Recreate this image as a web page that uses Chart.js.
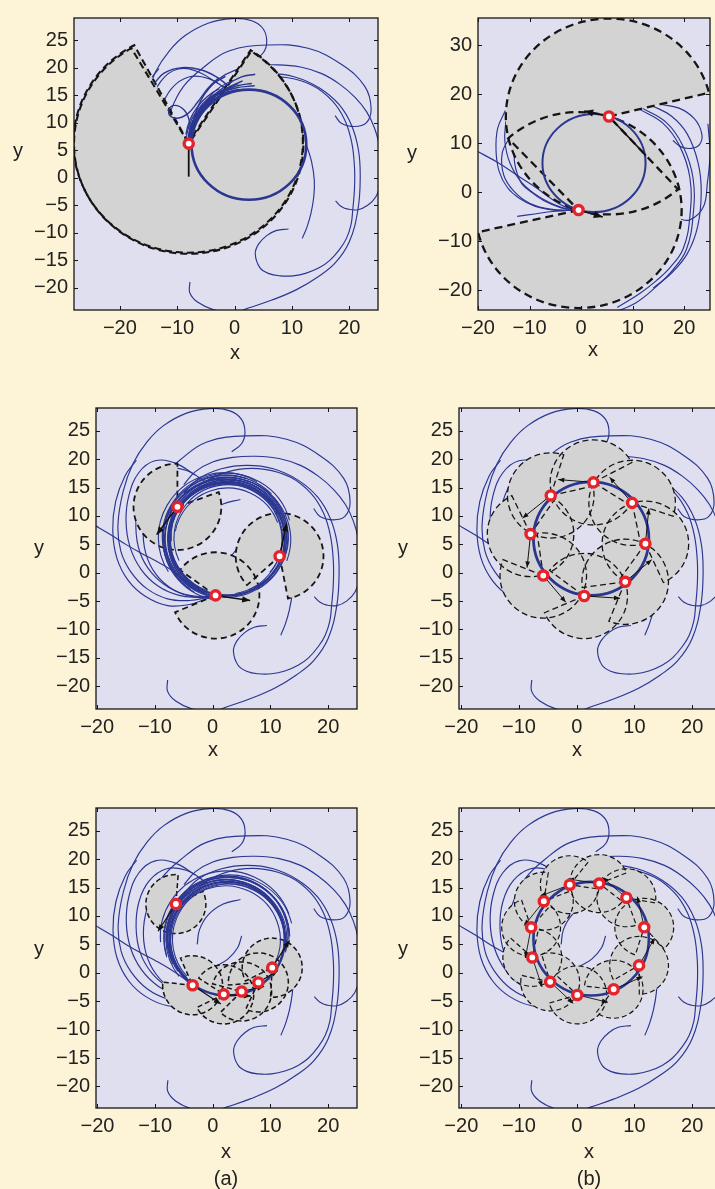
<!DOCTYPE html>
<html>
<head>
<meta charset="utf-8">
<script src="https://cdn.jsdelivr.net/npm/chart.js@4.4.1/dist/chart.umd.min.js"></script>
<style>
  html, body { margin: 0; padding: 0; }
  body { width: 715px; height: 1189px; overflow: hidden; position: relative; background: #fdf3d7;
         font-family: "Liberation Sans", Arial, Helvetica, sans-serif; }
  canvas { position: absolute; }
  .lbl { position: absolute; font-size: 20px; color: #222; transform: translate(-50%, -50%); line-height: 1; }
</style>
</head>
<body>
<script>
// ---- ticks ----
const xTicks = [-20, -10, 0, 10, 20];
const yTicks = [-20, -15, -10, -5, 0, 5, 10, 15, 20, 25];
const yTicksTall = [-20, -10, 0, 10, 20, 30];

// limit cycle: centre x, centre y, radius
const limitCycle = [2.5, 6, 10];

// ---- trajectories shared by most panels ----
const hookCurve = [[3.3,21.3],[5.0,22.7],[5.6,24.7],[5.0,27.0],[3.0,28.5],[-0.5,28.9],[-4.5,28.1],[-8.5,25.9],[-11.4,23.0],[-13.8,19.2],[-15.5,14.3],[-16.4,8.4],[-15.9,3.8],[-14.2,0.2],[-11.4,-2.8],[-7.8,-4.6],[-4,-4.9],[-0.5,-4.3]];
const leftLine = [[-21,8.7],[-17.5,6.6],[-14.9,4.9],[-12.3,3.4],[-9.7,2],[-7.5,0.7],[-5.3,-0.8],[-3.3,-2.4],[-1,-3.8]];
const leftArc = [[-3,17.2],[-6.5,19.3],[-10,19.7],[-12.8,17.6],[-14.5,13.6],[-15,9],[-14.3,4.5],[-12.4,0.6],[-9.4,-2.4],[-5.8,-4],[-2,-4.4]];
const leftArc2 = [[-1,15.8],[-4.5,18],[-8,18.3],[-11,16.2],[-12.8,12.5],[-13.3,8],[-12.6,3.6],[-10.6,0],[-7.6,-2.6],[-4,-4],[-0.5,-4.2]];
const leftArc3 = [[-13.2,19.8],[-15.2,17],[-16.8,12.5],[-17.3,7.5],[-16.6,2.6],[-14.6,-1.4],[-11.6,-4.2],[-7.8,-5.8],[-4,-5.6],[-0.8,-4.5]];
const topArc = [[17.5,11.3],[18.6,9.9],[20.9,9.3],[22.9,9.9],[23.8,12.5],[22.7,16.6],[18.6,20.6],[12.8,23.5],[5.9,24.1],[-1,23],[-5.7,19.8],[-8.9,16.6],[-11,12.5],[-12,8],[-11.6,3.5],[-9.8,-0.3],[-6.8,-3],[-3.2,-4.3],[-0.5,-4.2]];
const bottomArc = [[-7.8,-18.9],[-7.8,-20.9],[-6.4,-22.6],[-3.5,-24],[0,-24.4],[2.5,-23.6],[6.5,-22.2],[10.8,-20.3],[14.5,-18],[17.5,-15.5],[20,-11.6],[21.5,-5.8],[21.9,0],[21.6,5],[20.4,9.5],[18.2,13.3],[14.8,16.3],[10.5,18.3],[6,18.9],[1.5,18.3],[-2.5,16.5],[-5,14]];
const curlArc = [[9.4,-9.3],[7.2,-9.6],[5.6,-10.5],[4.2,-12],[3.6,-13.8],[4.4,-16.3],[6,-17.4],[7.9,-17.8],[10.2,-17.8],[12.5,-17.3],[14.8,-16.3],[16.6,-15],[18.3,-13],[19.5,-11],[20.3,-8.5],[20.6,-5.8],[20.9,-2],[20.9,2],[20.4,6.5],[19.2,10.5],[17,14],[13.5,16.8],[9,18.2],[4.5,18.2],[0.5,17],[-2.5,15.2]];
const outerArc = [[17.6,-4.2],[18.6,-5.2],[19.8,-5.7],[21.5,-5.8],[23.2,-5],[24.6,-3.5],[25.4,-1],[25.6,2],[25.3,5.5],[24.4,9],[23,12],[21,14.6],[18.3,17],[15.2,18.9],[11.5,20.1],[7.5,20.5],[3.5,20.3],[0,19.5],[-3,17.8],[-5,15.5]];
const shortArc = [[11.8,-11],[12.6,-9],[13.3,-6.5],[13.8,-3.5],[13.9,-0.5],[13.4,3],[12.5,6]];
const innerA = [[-2.7,5.0],[-2.3,7.6],[-0.8,10.2],[1.8,12.1],[4.8,12.9]];
const innerB = [[0.3,1.0],[2.6,2.4],[4.3,4.4],[5.0,6.5]];
const sharedPaths = [hookCurve, leftLine, leftArc, leftArc2, leftArc3, topArc, bottomArc, curlArc, outerArc, shortArc, innerA, innerB];

// ---- panel 1: one agent, wide sensing sector ----
const p1Agents = [[-8, 6.2]];
const p1Sectors = [[-8, 6.2, 20, 120, 417], [-8.1, 6.4, 20, 118, 417]];
const p1Arrows = [[-8, 6.2, -8, 0.2, 0]];
const p1Bundle = [
  [[-8,6.3],[-7.6,9.2],[-6,12.3],[-3.3,14.9],[0.2,16.3],[3.5,16.7]],
  [[-8,6.3],[-7.3,9.5],[-5.6,12.6],[-2.9,15.2],[0.5,16.7],[3,17.1]],
  [[-8,6.3],[-7.1,9.8],[-5.2,13],[-2.4,15.6],[0.6,17.1]],
  [[-8,6.3],[-6.8,10.1],[-4.7,13.4],[-1.8,16],[1.4,17.6]],
  [[-8,6.3],[-6.6,10.6],[-4.4,14],[-1.6,16.7],[1.2,18.3],[3.6,18.8]],
  [[-8,6.3],[-7.2,10.3],[-6,13.8],[-4,16.8],[-1.6,18.4]],
  [[-8,6.3],[-7.8,9.8],[-8.8,12.3],[-10.8,13.1],[-11.5,11.7],[-10.3,10.8],[-8.2,11.6],[-6.4,13.8],[-4.6,16.3],[-2.8,18.1]],
  [[-14.2,16.9],[-12.3,19],[-9.2,20],[-5.9,19.6],[-3.3,18.4],[-1.2,16.8]]
];
const p1Arcs = [
  [2.5,6.0,10.3,110,180], [2.5,6.2,10.6,106,178], [2.4,6.0,10.9,114,176], [2.6,6.3,11.2,118,172],
  [2.5,6.1,10.1,100,180], [2.4,6.3,10.45,104,179], [2.6,6.1,10.75,112,177]
];

// ---- panel 2: two agents ----
const p2Agents = [[5.4, 15.5], [-0.5, -3.6]];
const p2Sectors = [[5.4, 15.5, 20, 14, 312], [-0.5, -3.6, 20, 193, 493]];
const p2Arrows = [[5.4, 15.5, 0.6, 16.6, 1], [-0.5, -3.6, 4.2, -5, 1], [5.4, 15.5, 12.6, 7.5, 0]];
const p2Left = [
  [[-20.5,8.6],[-16,6],[-12,3.2],[-8.5,0.8],[-5.5,-1.5],[-3,-3],[-0.8,-3.6]],
  [[-14.7,16.7],[-16.2,13],[-16.5,8.5],[-15.9,4.3],[-14.3,1],[-12,-1.2],[-9,-2.8],[-5.3,-3.6],[-1.2,-3.7]],
  [[-13.7,11.5],[-15.3,8],[-15,3.5],[-13,0.2],[-10,-2.2],[-6,-3.4],[-1.2,-3.6]],
  [[-11.8,12.1],[-13,7.5],[-11.8,2.3],[-9.6,0],[-7.2,-1.7],[-4,-3.1],[-1.2,-3.6]],
  [[-12.4,-4.9],[-9,-4.4],[-5.5,-3.9],[-1.2,-3.6]],
  [[-14.6,14.5],[-14.8,10.5],[-13.8,6],[-11.5,2],[-8,-1],[-4,-3],[-1.2,-3.6]]
];
const p2Right = [
  [[11.3,17],[15.9,14.1],[19.1,9.5],[21.1,3],[21.1,-4.9],[19.8,-11.5],[17.2,-15.4],[14.6,-18],[11.3,-20.7],[7,-23.5]],
  [[11.9,17.2],[16.5,14.3],[19.7,9.6],[21.7,3],[21.7,-5],[20.4,-11.7],[17.8,-15.8],[14.8,-19],[10.5,-22.6],[5,-25]],
  [[13.6,17.8],[17.5,15.6],[20.6,11.9],[22.7,6],[23.3,0],[22.6,-7],[20.6,-12.5],[17.5,-16.5],[14,-19.5]],
  [[15.2,18],[19,17.2],[22,15],[23.4,12],[23,9.8],[21.4,9],[19.4,9.3],[17.8,10.6]],
  [[24.6,14],[25,8],[24.5,2],[23.7,-3],[21.1,-5.6],[18.5,-5.3]]
];

// ---- panel 3: three agents ----
const p3Agents = [[-6.1, 11.6], [11.6, 2.9], [0.5, -4]];
const p3Sectors = [[-6.1, 11.6, 7.6, 90, 380], [11.6, 2.9, 7.6, 281, 582], [0.5, -4, 7.6, 203, 504]];
const p3Arrows = [[-6.1, 11.6, -9.7, 6.7, 1], [11.6, 2.9, 12.8, 8.7, 1], [0.5, -4, 6.5, -4.9, 1]];
// converging trajectories near the cycle: centre x, centre y, radius, from deg, to deg
const p3Arcs = [
  [2.5,6.0,10.3,-95,262], [2.4,6.2,10.6,-60,250], [2.6,5.8,10.9,-20,238], [2.3,5.9,9.7,-80,232],
  [2.5,6.3,11.2,15,222], [2.2,6.0,10.5,30,258], [2.7,6.1,9.4,-40,205], [2.4,5.6,10.1,0,255],
  [2.0,6.2,11.4,60,212], [2.8,6.4,10.0,-70,185], [2.5,6.0,9.8,40,250], [2.3,6.4,10.8,70,245],
  [2.6,5.7,9.2,20,170], [2.1,5.8,10.7,90,262], [2.4,6.1,11.0,45,235], [2.7,6.3,10.4,-30,228]
];

// ---- panel 4: eight agents ----
const p4Agents = [[2.9,15.9],[9.6,12.3],[11.9,5.1],[8.4,-1.6],[1.3,-4.1],[-5.8,-0.5],[-8,6.8],[-4.5,13.6]];
const p4Sectors = [[2.9,15.9,7.5,27.7,327.7],[9.6,12.3,7.5,-18.4,281.6],[11.9,5.1,7.5,-65.5,234.5],[8.4,-1.6,7.5,-112.2,187.8],
  [1.3,-4.1,7.5,-156.8,143.2],[-5.8,-0.5,7.5,-201.9,98.1],[-8,6.8,7.5,115.6,415.6],[-4.5,13.6,7.5,72.6,372.6]];
const p4Arrows = [[2.9,15.9,-3.2,16.4,1],[9.6,12.3,5.7,16.8,1],[11.9,5.1,12.5,11.3,1],[8.4,-1.6,13,2.3,1],
  [1.3,-4.1,7.5,-4.5,1],[-5.8,-0.5,-1.9,-5.2,1],[-8,6.8,-8.6,0.9,1],[-4.5,13.6,-9.4,9.6,1]];

// ---- panel 5: six agents, short range ----
const p5Agents = [[-6.4,12.1],[-3.5,-2.2],[1.9,-3.8],[5,-3.3],[7.9,-1.7],[10.3,0.9]];
const p5Sectors = [[-6.4,12.1,5.2,85.6,385.6],[-3.5,-2.2,5.2,-186.2,113.8],[1.9,-3.8,5.2,-153.5,146.5],
  [5,-3.3,5.2,-135,165],[7.9,-1.7,5.2,-114.9,185.1],[10.3,0.9,5.2,-93.2,206.8]];
const p5Arrows = [[-6.4,12.1,-9.5,7.3,1],[-3.5,-2.2,1.4,-5.5,1],[1.9,-3.8,6.6,-4.1,1],[5,-3.3,8.9,-2.4,1],
  [7.9,-1.7,11.3,0.4,1],[10.3,0.9,13.3,5.7,1]];
const p5Arcs = [
  [2.5,6.0,10.3,-12,214], [2.6,6.2,10.6,-2,206], [2.4,6.1,10.9,6,198], [2.7,5.9,9.7,-22,222],
  [2.3,6.3,10.1,-6,210], [2.5,6.5,10.5,-16,190], [2.8,6.0,11.2,14,195], [2.2,5.8,9.5,-26,226],
  [2.5,5.7,10.0,-8,230], [2.4,6.4,11.5,20,185], [2.6,6.0,10.75,2,218], [2.3,6.2,10.2,-18,202]
];

// ---- panel 6: eleven agents ----
const p6Agents = [[-1.2,15.5],[3.9,15.7],[8.6,13.2],[11.7,8],[10.8,1.3],[6.4,-2.9],[0.1,-3.9],[-4.6,-1.6],[-7.7,2.7],[-7.9,8],[-5.7,12.6]];
const p6Sectors = [[-1.2,15.5,5.1,51.3,351.3],[3.9,15.7,5.1,21.8,321.8],[8.6,13.2,5.1,-10.3,289.7],[11.7,8,5.1,-47.7,252.3],
  [10.8,1.3,5.1,-89.5,210.5],[6.4,-2.9,5.1,-126.3,173.7],[0.1,-3.9,5.1,-163.6,136.4],[-4.6,-1.6,5.1,-193,107],
  [-7.7,2.7,5.1,-222.1,77.9],[-7.9,8,5.1,109.1,409.1],[-5.7,12.6,5.1,81.2,381.2]];
const p6Arrows = [[-1.2,15.5,-6.3,13.5,1],[3.9,15.7,-1.5,16.5,1],[8.6,13.2,4.4,16.8,1],[11.7,8,10.5,13.4,1],
  [10.8,1.3,13.5,6.1,1],[6.4,-2.9,11.4,-0.7,1],[0.1,-3.9,5.4,-5.2,1],[-4.6,-1.6,-0.6,-5.4,1],
  [-7.7,2.7,-6,-2.5,1],[-7.9,8,-8.9,2.6,1],[-5.7,12.6,-9.1,8.3,1]];

const BLUE = '#2b3691';
const GREY = '#d3d3d3';
const PLOT_BG = '#dfdfef';
const RAD = Math.PI / 180;

// box: canvas left, top, width, height; area: plot left, top, right, bottom (page px)
const panels = [
  { box: [0, 0, 385, 345], area: [74, 6, 378, 310], x: [-28, 25], y: [-24, 29], yt: yTicks,
    paths: sharedPaths, bundle: p1Bundle, arcs: p1Arcs, agents: p1Agents, sectors: p1Sectors, arrows: p1Arrows,
    xl: [235, 352], yl: [18, 150],
    st: { ring: 2.6, dash: [7, 4], dashW: 2.1, arrowW: 1.8, head: 0, arcW: 1.3, bundleW: 1.4 } },
  { box: [400, 0, 320, 345], area: [478, 7, 710, 310], x: [-20, 25], y: [-24, 35.6], yt: yTicksTall,
    paths: p2Left.concat(p2Right), bundle: [], arcs: [], agents: p2Agents, sectors: p2Sectors, arrows: p2Arrows,
    xl: [593, 349], yl: [412, 152],
    st: { ring: 2.0, dash: [8, 5], dashW: 2.3, arrowW: 1.6, head: 9, arcW: 1, bundleW: 1 } },
  { box: [0, 390, 380, 355], area: [96, 406, 357, 709], x: [-20.2, 25], y: [-24, 29], yt: yTicks,
    paths: sharedPaths, bundle: [], arcs: p3Arcs, agents: p3Agents, sectors: p3Sectors, arrows: p3Arrows,
    xl: [213, 749], yl: [39, 547],
    st: { ring: 2.4, dash: [6, 4], dashW: 1.8, arrowW: 1.5, head: 8, arcW: 1.1, bundleW: 1 } },
  { box: [400, 390, 330, 355], area: [459, 406, 721, 709], x: [-20.4, 25], y: [-24, 29], yt: yTicks,
    paths: sharedPaths, bundle: [], arcs: [], agents: p4Agents, sectors: p4Sectors, arrows: p4Arrows,
    xl: [577, 749], yl: [403, 547],
    st: { ring: 2.8, dash: [6, 3.5], dashW: 1.3, arrowW: 1, head: 6, arcW: 1, bundleW: 1 } },
  { box: [0, 790, 380, 355], area: [96, 805, 357, 1108], x: [-20.25, 25], y: [-23.8, 29], yt: yTicks,
    paths: sharedPaths, bundle: [], arcs: p5Arcs, agents: p5Agents, sectors: p5Sectors, arrows: p5Arrows,
    xl: [226, 1151], yl: [39, 948],
    st: { ring: 2.4, dash: [5, 3], dashW: 1.5, arrowW: 1.2, head: 7, arcW: 1.1, bundleW: 1 } },
  { box: [400, 790, 330, 355], area: [459, 805, 721, 1108], x: [-20.4, 25], y: [-23.8, 29], yt: yTicks,
    paths: sharedPaths, bundle: [], arcs: [], agents: p6Agents, sectors: p6Sectors, arrows: p6Arrows,
    xl: [589, 1151], yl: [403, 948],
    st: { ring: 2.6, dash: [5, 3], dashW: 1.2, arrowW: 0.9, head: 6, arcW: 1, bundleW: 1 } }
];

Chart.defaults.font.family = '"Liberation Sans", Arial, Helvetica, sans-serif';
Chart.defaults.font.size = 20;
Chart.defaults.color = '#222';

const minus = v => String(v).replace('-', '\u2212');

function px(chart, x, y) {
  return [chart.scales.x.getPixelForValue(x), chart.scales.y.getPixelForValue(y)];
}
function radii(chart, r) {
  const sx = chart.scales.x, sy = chart.scales.y;
  return [Math.abs(sx.getPixelForValue(r) - sx.getPixelForValue(0)),
          Math.abs(sy.getPixelForValue(r) - sy.getPixelForValue(0))];
}
function clipArea(chart) {
  const a = chart.chartArea, ctx = chart.ctx;
  ctx.save();
  ctx.beginPath();
  ctx.rect(a.left, a.top, a.right - a.left, a.bottom - a.top);
  ctx.clip();
}

function drawSectors(chart, p) {
  const ctx = chart.ctx;
  clipArea(chart);
  const wedge = s => {
    const [cx, cy] = px(chart, s[0], s[1]);
    const [rx, ry] = radii(chart, s[2]);
    ctx.beginPath();
    ctx.moveTo(cx, cy);
    ctx.ellipse(cx, cy, rx, ry, 0, -s[3] * RAD, -s[4] * RAD, true);
    ctx.closePath();
  };
  ctx.fillStyle = GREY;
  p.sectors.forEach(s => { wedge(s); ctx.fill(); });
  ctx.strokeStyle = '#151515';
  ctx.lineWidth = p.st.dashW;
  ctx.setLineDash(p.st.dash);
  p.sectors.forEach(s => { wedge(s); ctx.stroke(); });
  ctx.setLineDash([]);

  // trajectories wound onto the cycle
  ctx.strokeStyle = BLUE;
  ctx.lineWidth = p.st.arcW;
  p.arcs.forEach(c => {
    const [cx, cy] = px(chart, c[0], c[1]);
    const [rx, ry] = radii(chart, c[2]);
    ctx.beginPath();
    ctx.ellipse(cx, cy, rx, ry, 0, -c[3] * RAD, -c[4] * RAD, true);
    ctx.stroke();
  });
  // the limit cycle itself
  const [cx, cy] = px(chart, limitCycle[0], limitCycle[1]);
  const [rx, ry] = radii(chart, limitCycle[2]);
  ctx.lineWidth = p.st.ring;
  ctx.beginPath();
  ctx.ellipse(cx, cy, rx, ry, 0, 0, Math.PI * 2);
  ctx.stroke();
  ctx.restore();
}

function drawArrows(chart, p) {
  const ctx = chart.ctx;
  clipArea(chart);
  ctx.strokeStyle = '#111';
  ctx.fillStyle = '#111';
  ctx.lineWidth = p.st.arrowW;
  p.arrows.forEach(a => {
    const [x0, y0] = px(chart, a[0], a[1]);
    const [x1, y1] = px(chart, a[2], a[3]);
    ctx.beginPath(); ctx.moveTo(x0, y0); ctx.lineTo(x1, y1); ctx.stroke();
    if (a[4] && p.st.head) {
      const h = p.st.head, t = Math.atan2(y1 - y0, x1 - x0), w = h * 0.4;
      const bx = x1 - h * Math.cos(t), by = y1 - h * Math.sin(t);
      ctx.beginPath();
      ctx.moveTo(x1, y1);
      ctx.lineTo(bx + w * Math.sin(t), by - w * Math.cos(t));
      ctx.lineTo(bx - w * Math.sin(t), by + w * Math.cos(t));
      ctx.closePath();
      ctx.fill();
    }
  });
  ctx.restore();
}

function layers(p) {
  return {
    id: 'layers',
    beforeDraw(chart) {
      const a = chart.chartArea, ctx = chart.ctx;
      ctx.save();
      ctx.fillStyle = PLOT_BG;
      ctx.fillRect(a.left, a.top, a.right - a.left, a.bottom - a.top);
      ctx.restore();
      chart.$sectorsDone = false;
      chart.$arrowsDone = false;
    },
    beforeDatasetDraw(chart, args) {
      const layer = chart.data.datasets[args.index].layer;
      if ((layer === 'top' || layer === 'marks') && !chart.$sectorsDone) {
        drawSectors(chart, p);
        chart.$sectorsDone = true;
      }
      if (layer === 'marks' && !chart.$arrowsDone) {
        drawArrows(chart, p);
        chart.$arrowsDone = true;
      }
    },
    afterDraw(chart) {
      // boxed axes with inward ticks on all four sides
      const a = chart.chartArea, ctx = chart.ctx, sx = chart.scales.x, sy = chart.scales.y;
      ctx.save();
      ctx.strokeStyle = '#151515';
      ctx.lineWidth = 1.3;
      ctx.strokeRect(a.left, a.top, a.right - a.left, a.bottom - a.top);
      ctx.lineWidth = 1;
      ctx.beginPath();
      xTicks.forEach(v => {
        const x = Math.round(sx.getPixelForValue(v)) + 0.5;
        ctx.moveTo(x, a.bottom); ctx.lineTo(x, a.bottom - 4);
        ctx.moveTo(x, a.top); ctx.lineTo(x, a.top + 4);
      });
      p.yt.forEach(v => {
        const y = Math.round(sy.getPixelForValue(v)) + 0.5;
        ctx.moveTo(a.left, y); ctx.lineTo(a.left + 4, y);
        ctx.moveTo(a.right, y); ctx.lineTo(a.right - 4, y);
      });
      ctx.stroke();
      ctx.restore();
    }
  };
}

function curve(pts, width, layer, order) {
  return {
    data: pts.map(q => ({ x: q[0], y: q[1] })),
    showLine: true, borderColor: BLUE, borderWidth: width, pointRadius: 0, pointHoverRadius: 0,
    tension: 0.4, fill: false, clip: 0, layer, order
  };
}

function addLabel(text, pos) {
  const d = document.createElement('div');
  d.className = 'lbl';
  d.textContent = text;
  d.style.left = pos[0] + 'px';
  d.style.top = pos[1] + 'px';
  document.body.appendChild(d);
}

panels.forEach(p => {
  const [bl, bt, bw, bh] = p.box;
  const canvas = document.createElement('canvas');
  canvas.width = bw; canvas.height = bh;
  canvas.style.left = bl + 'px'; canvas.style.top = bt + 'px';
  canvas.style.width = bw + 'px'; canvas.style.height = bh + 'px';
  document.body.appendChild(canvas);

  const datasets = [];
  datasets.push({
    data: p.agents.map(q => ({ x: q[0], y: q[1] })),
    pointRadius: 4.6, pointBorderWidth: 3.4, pointBackgroundColor: '#ffffff', pointBorderColor: '#e5232b',
    pointHoverRadius: 4.6, showLine: false, clip: false, layer: 'marks', order: 0
  });
  p.bundle.forEach(b => datasets.push(curve(b, p.st.bundleW, 'top', 2)));
  p.paths.forEach(c => datasets.push(curve(c, 1.15, 'under', 3)));

  new Chart(canvas, {
    type: 'scatter',
    data: { datasets },
    options: {
      responsive: false, animation: false, devicePixelRatio: 1,
      events: [],
      layout: { autoPadding: false,
                padding: { left: 0, top: p.area[1] - bt, right: bl + bw - p.area[2], bottom: 0 } },
      plugins: { legend: { display: false }, tooltip: { enabled: false } },
      scales: {
        x: {
          type: 'linear', min: p.x[0], max: p.x[1],
          grid: { display: false, drawTicks: false }, border: { display: false },
          ticks: { padding: 6, maxRotation: 0, minRotation: 0, autoSkip: false, callback: minus },
          afterBuildTicks: s => { s.ticks = xTicks.map(v => ({ value: v })); },
          afterFit: s => { s.height = bt + bh - p.area[3]; }
        },
        y: {
          type: 'linear', min: p.y[0], max: p.y[1],
          grid: { display: false, drawTicks: false }, border: { display: false },
          ticks: { padding: 6, autoSkip: false, callback: minus },
          afterBuildTicks: s => { s.ticks = p.yt.map(v => ({ value: v })); },
          afterFit: s => { s.width = p.area[0] - bl; }
        }
      }
    },
    plugins: [layers(p)]
  });

  addLabel('x', p.xl);
  addLabel('y', p.yl);
});

addLabel('(a)', [226, 1178]);
addLabel('(b)', [589, 1178]);
</script>
</body>
</html>
